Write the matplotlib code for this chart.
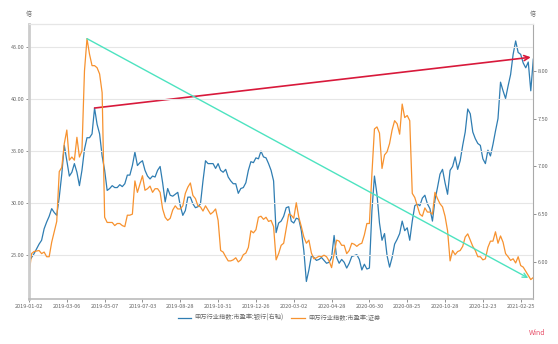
import numpy as np
import matplotlib
matplotlib.use("Agg")
import matplotlib.pyplot as plt

plt.rcParams['font.family'] = ['Noto Sans CJK SC', 'DejaVu Sans']

# tick labels on the date axis (one every 15 trading-day steps)
date_labels = ['2019-01-02', '2019-03-06', '2019-05-07', '2019-07-03', '2019-08-28',
               '2019-10-31', '2019-12-26', '2020-03-02', '2020-04-28', '2020-06-30',
               '2020-08-25', '2020-10-28', '2020-12-23', '2021-02-25']

# 申万 证券 PE (left axis)
sec_pe = [23.0, 25.1, 25.3, 25.35, 25.4, 25.1, 25.25, 24.8, 24.8, 26.2,
          27.2, 28.2, 33.0, 33.4, 35.7, 37.0, 34.1, 34.4, 34.1, 36.3,
          34.4, 35.0, 42.7, 45.8, 44.3, 43.2, 43.2, 43.0, 42.4, 40.6,
          28.6, 28.1, 28.1, 28.1, 27.8, 28.0, 28.0, 27.8, 27.7, 28.8,
          28.8, 28.9, 32.1, 31.0, 31.8, 32.6, 31.2, 31.35, 31.6, 31.0,
          31.35, 31.35, 31.0, 29.4, 28.6, 28.3, 28.5, 29.3, 29.7, 29.4,
          29.4, 29.7, 30.9, 31.5, 31.9, 30.7, 30.4, 29.7, 29.6, 29.2,
          29.7, 29.3, 28.9, 29.1, 29.4, 28.3, 25.4, 25.25, 24.8, 24.4,
          24.4, 24.5, 24.7, 24.3, 24.5, 25.0, 25.15, 25.7, 27.3, 27.1,
          27.4, 28.6, 28.7, 28.4, 28.6, 28.2, 28.3, 27.7, 24.5, 25.1,
          25.9, 26.1, 27.5, 28.9, 28.8, 28.5, 30.0, 28.6, 27.7, 26.7,
          26.1, 26.4, 25.15, 24.6, 24.7, 24.85, 24.8, 24.95, 24.8, 24.4,
          23.75, 25.1, 26.4, 26.3, 25.9, 25.9, 25.1, 25.4, 26.1, 26.0,
          25.8, 26.0, 26.1, 26.9, 28.0, 28.0, 32.8, 37.1, 37.3, 36.7,
          33.3, 34.6, 34.9, 35.7, 37.0, 37.9, 37.6, 36.6, 39.5, 38.2,
          38.4, 37.9, 30.9, 30.5, 29.7, 28.9, 28.7, 29.5, 29.1, 29.1,
          28.9, 31.0, 30.4, 29.9, 29.6, 28.7, 27.3, 24.4, 25.4, 25.0,
          25.3, 25.4, 25.8, 26.7, 27.0, 26.4, 25.8, 25.4, 24.8, 24.8,
          24.5, 24.6, 25.7, 26.3, 26.3, 27.2, 26.1, 26.8, 26.2, 25.1,
          24.8, 24.45, 24.6, 24.2, 24.8, 23.95, 23.8, 23.4, 23.0, 22.6,
          22.8]

# 申万 银行 PE (right axis)
bank_pe = [6.01, 6.05, 6.09, 6.14, 6.19, 6.23, 6.35, 6.42, 6.48, 6.56,
           6.52, 6.49, 6.68, 6.92, 7.22, 7.06, 6.90, 6.94, 7.03, 6.94,
           6.80, 6.96, 7.18, 7.30, 7.30, 7.34, 7.61, 7.44, 7.34, 7.11,
           6.96, 6.75, 6.77, 6.80, 6.78, 6.78, 6.81, 6.79, 6.82, 6.91,
           6.91, 7.01, 7.15, 7.01, 7.04, 7.06, 6.96, 6.90, 6.87, 6.90,
           6.89, 6.96, 7.00, 6.83, 6.63, 6.77, 6.70, 6.69, 6.71, 6.73,
           6.59, 6.49, 6.54, 6.68, 6.68, 6.61, 6.57, 6.58, 6.61, 6.85,
           7.06, 7.03, 7.03, 7.03, 6.98, 7.03, 6.96, 6.94, 6.97, 6.89,
           6.85, 6.82, 6.82, 6.72, 6.77, 6.78, 6.83, 6.96, 7.05, 7.04,
           7.09, 7.08, 7.16, 7.10, 7.09, 7.03, 6.96, 6.85, 6.31, 6.41,
           6.43, 6.48, 6.57, 6.58, 6.43, 6.41, 6.46, 6.45, 6.33, 6.12,
           5.80, 5.92, 6.07, 6.05, 6.02, 6.03, 6.05, 6.02, 5.99, 6.00,
           6.05, 6.28, 6.05, 5.99, 6.03, 6.00, 5.94, 5.99, 6.06, 6.07,
           6.08, 6.03, 5.92, 5.98, 5.93, 5.94, 6.54, 6.90, 6.71, 6.41,
           6.23, 6.30, 6.07, 5.95, 6.05, 6.19, 6.24, 6.30, 6.43, 6.33,
           6.36, 6.23, 6.43, 6.59, 6.61, 6.59, 6.67, 6.70, 6.61, 6.56,
           6.43, 6.65, 6.78, 6.92, 6.97, 6.83, 6.71, 6.96, 7.00, 7.10,
           6.97, 7.06, 7.22, 7.36, 7.60, 7.55, 7.36, 7.29, 7.24, 7.22,
           7.08, 7.03, 7.17, 7.11, 7.23, 7.37, 7.50, 7.88, 7.79, 7.71,
           7.84, 7.96, 8.17, 8.31, 8.19, 8.17, 8.08, 8.03, 8.09, 7.79,
           8.12]

# trend arrows: (index, value) start -> end
bank_arrow = [(26, 7.61), (199, 8.14)]
sec_arrow = [(23, 45.8), (198, 22.75)]

blue = '#2f7db2'
orange = '#f7922f'
grey = '#666666'

x = np.arange(len(sec_pe))

fig = plt.figure(figsize=(5.58, 3.44), dpi=100)
ax = fig.add_axes([29 / 558, 1 - 299 / 344, 504.3 / 558, 275 / 344])
ax2 = ax.twinx()

l2, = ax.plot(x, sec_pe, color=orange, lw=0.9, label='申万行业指数:市盈率:证券')
l1, = ax2.plot(x, bank_pe, color=blue, lw=0.9, label='申万行业指数:市盈率:银行(右轴)')

ax2.annotate('', xy=bank_arrow[1], xytext=bank_arrow[0],
             arrowprops=dict(arrowstyle='->', color='#d8193b', lw=1.2,
                             shrinkA=0, shrinkB=0, mutation_scale=9))
ax.annotate('', xy=sec_arrow[1], xytext=sec_arrow[0],
            arrowprops=dict(arrowstyle='->', color='#4de3c0', lw=1.0,
                            shrinkA=0, shrinkB=0, mutation_scale=8))
ax.set_zorder(ax2.get_zorder() + 1)
ax.patch.set_visible(False)

ax.set_xlim(0, len(sec_pe) - 1)
ax.set_ylim(20.73, 47.21)
ax2.set_ylim(5.617, 8.487)

ax.set_xticks(np.arange(len(date_labels)) * 15)
ax.set_xticklabels(date_labels)
ax.set_yticks([25, 30, 35, 40, 45])
ax.set_yticklabels(['%.2f' % v for v in [25, 30, 35, 40, 45]])
ax2.set_yticks([6.0, 6.5, 7.0, 7.5, 8.0])
ax2.set_yticklabels(['%.2f' % v for v in [6.0, 6.5, 7.0, 7.5, 8.0]])

ax.grid(axis='y', color='#e6e6e6', lw=0.8)
ax.set_axisbelow(True)

for a in (ax, ax2):
    a.tick_params(labelsize=4, colors=grey, length=2, width=0.5, pad=1.5)
    a.spines['top'].set_color('#e6e6e6')
    a.spines['top'].set_linewidth(0.8)
ax.tick_params(axis='x', labelsize=4, pad=1.5)
ax.spines['left'].set_color('#cccccc')
ax.spines['left'].set_linewidth(2)
ax.spines['bottom'].set_color('#bbbbbb')
ax.spines['bottom'].set_linewidth(1.2)
ax.spines['right'].set_visible(False)
ax2.spines['left'].set_visible(False)
ax2.spines['bottom'].set_visible(False)
ax2.spines['right'].set_color('#aaaaaa')
ax2.spines['right'].set_linewidth(0.8)

fig.text(29 / 558, 1 - 14 / 344, '倍', fontsize=4.3, color=grey, ha='center', va='center')
fig.text(533 / 558, 1 - 14 / 344, '倍', fontsize=4.3, color=grey, ha='center', va='center')

fig.legend(handles=[l1, l2], loc='center', bbox_to_anchor=(0.5, 1 - 318 / 344),
           ncol=2, frameon=False, fontsize=4.5, handlelength=2.2, columnspacing=1.2,
           handletextpad=0.5, labelcolor=grey)

fig.text(537 / 558, 1 - 333 / 344, 'Wind', fontsize=5, color='#e8506a', ha='center', va='center')

fig.savefig('out.png', dpi=100)
